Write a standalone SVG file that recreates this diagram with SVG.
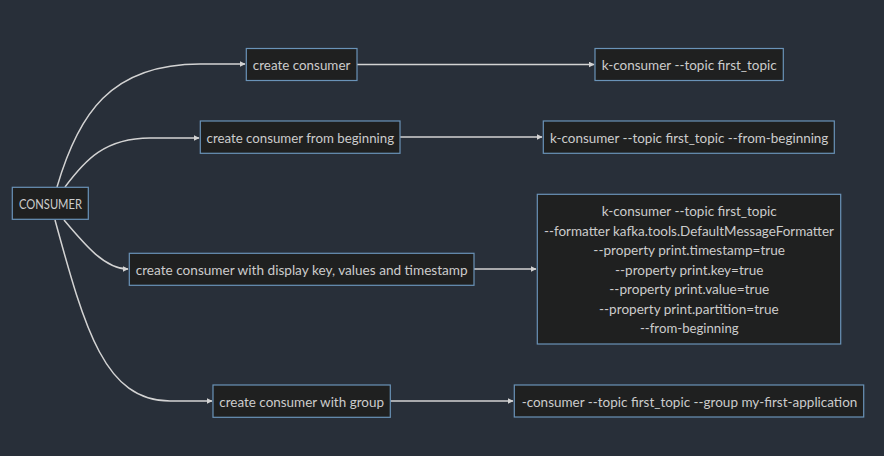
<svg xmlns="http://www.w3.org/2000/svg" width="884" height="456" viewBox="0 0 884 456">
<style>
.n rect{fill:#1f2020;stroke:#6a93b8;stroke-width:1.2}
text{font-family:Lato,"Liberation Sans",Arial,sans-serif;font-size:14px;fill:#cccccc;text-anchor:middle;dominant-baseline:central}
.e path{fill:none;stroke:#d3d3d3;stroke-width:1.5;marker-end:url(#a)}
</style>
<defs>
<marker id="a" viewBox="0 0 10 10" refX="9" refY="5" markerWidth="6" markerHeight="6" markerUnits="userSpaceOnUse" orient="auto">
<path d="M0,0 L10,5 L0,10 z" fill="#d3d3d3"/>
</marker>
</defs>
<rect width="884" height="456" fill="#282f39"/>
<g class="e" id="edges">
<path d="M57,187 C78,115 110,64 200,64 L245,64"/>
<path d="M65,187 C85,160 105,138 150,138 L199,138"/>
<path d="M64,220 C85,245 105,269 128,269"/>
<path d="M55,220 C85,330 105,401 170,401 L212,401"/>
<path d="M357,64.5 L594,64.5"/>
<path d="M400,137 L542,137"/>
<path d="M474,269 L536,269"/>
<path d="M390,401 L513,401"/>
</g>
<g class="n" id="consumer"><rect x="12.3" y="187.3" width="76" height="32"/><text x="50.5" y="203.3" textLength="63" lengthAdjust="spacingAndGlyphs">CONSUMER</text></g>
<g class="n" id="create-consumer"><rect x="246.3" y="48.5" width="110.7" height="32"/><text x="301.6" y="64.5" textLength="97.5" lengthAdjust="spacingAndGlyphs">create consumer</text></g>
<g class="n" id="create-from-beginning"><rect x="200.3" y="121" width="199.7" height="32.3"/><text x="300.3" y="137.1" textLength="187.5" lengthAdjust="spacingAndGlyphs">create consumer from beginning</text></g>
<g class="n" id="create-display"><rect x="129.3" y="253.3" width="344.7" height="32"/><text x="301.7" y="269.3" textLength="332" lengthAdjust="spacingAndGlyphs">create consumer with display key, values and timestamp</text></g>
<g class="n" id="create-group"><rect x="213" y="385" width="177.3" height="32.3"/><text x="301.6" y="401.1" textLength="164.7" lengthAdjust="spacingAndGlyphs">create consumer with group</text></g>
<g class="n" id="cmd1"><rect x="595" y="48.5" width="188.3" height="32"/><text x="689.2" y="64.5" textLength="175" lengthAdjust="spacingAndGlyphs">k-consumer --topic first_topic</text></g>
<g class="n" id="cmd2"><rect x="543.3" y="121" width="291" height="32.3"/><text x="689.2" y="137.1" textLength="278.3" lengthAdjust="spacingAndGlyphs">k-consumer --topic first_topic --from-beginning</text></g>
<g class="n" id="cmd3"><rect x="537.3" y="194.3" width="303.4" height="149.7"/>
<text x="689.2" y="210.7" textLength="175" lengthAdjust="spacingAndGlyphs">k-consumer --topic first_topic</text>
<text x="689" y="230.2" textLength="290" lengthAdjust="spacingAndGlyphs">--formatter kafka.tools.DefaultMessageFormatter</text>
<text x="689.2" y="249.7" textLength="191.7" lengthAdjust="spacingAndGlyphs">--property print.timestamp=true</text>
<text x="689.2" y="269.2" textLength="148.3" lengthAdjust="spacingAndGlyphs">--property print.key=true</text>
<text x="689.3" y="288.7" textLength="160" lengthAdjust="spacingAndGlyphs">--property print.value=true</text>
<text x="688.9" y="308.2" textLength="179.7" lengthAdjust="spacingAndGlyphs">--property print.partition=true</text>
<text x="689.3" y="327.7" textLength="98.7" lengthAdjust="spacingAndGlyphs">--from-beginning</text>
</g>
<g class="n" id="cmd4"><rect x="514.3" y="385" width="349.4" height="32"/><text x="689.5" y="401" textLength="335.7" lengthAdjust="spacingAndGlyphs">-consumer --topic first_topic --group my-first-application</text></g>
</svg>
